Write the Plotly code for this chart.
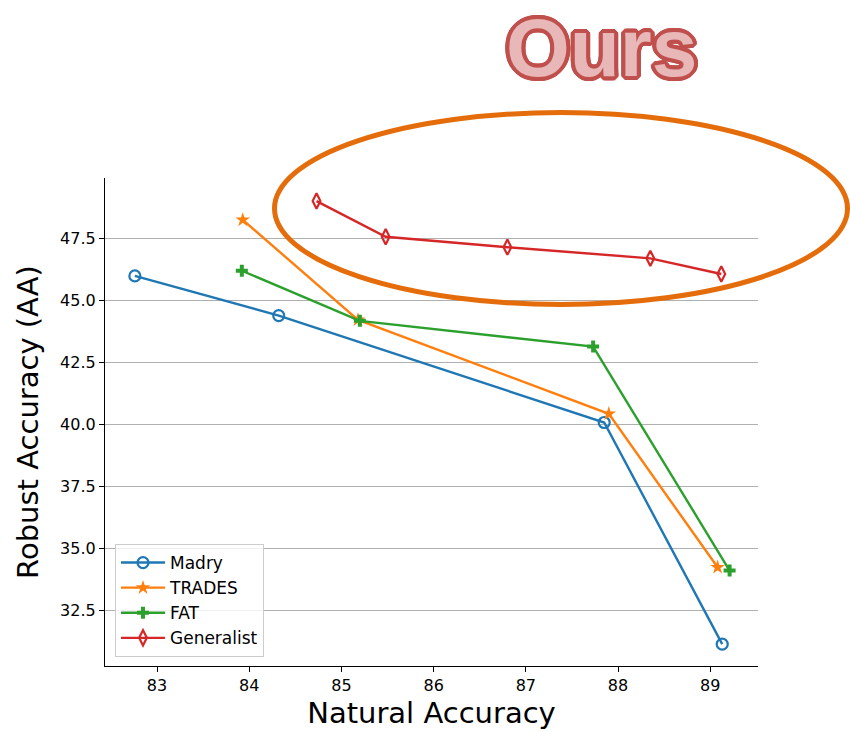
import plotly.graph_objects as go

# Natural / robust accuracy for each training method
madry_nat = [82.76, 84.32, 87.85, 89.13]
madry_rob = [45.98, 44.38, 40.07, 31.13]

trades_nat = [83.93, 85.18, 87.90, 89.08]
trades_rob = [48.24, 44.21, 40.42, 34.23]

fat_nat = [83.92, 85.20, 87.73, 89.21]
fat_rob = [46.19, 44.17, 43.13, 34.10]

gen_nat = [84.73, 85.48, 86.80, 88.35, 89.12]
gen_rob = [49.00, 47.56, 47.14, 46.69, 46.06]

y_ticks = [32.5, 35.0, 37.5, 40.0, 42.5, 45.0, 47.5]
x_ticks = [83, 84, 85, 86, 87, 88, 89]

FONT = "DejaVu Sans"
W, H = 850, 732
ML, MR, MT, MB = 105, 92, 178, 66
PW, PH = W - ML - MR, H - MT - MB


def px_to_paper(px, py):
    return (px - ML) / PW, (H - MB - py) / PH


fig = go.Figure()

series = [
    ("Madry", madry_nat, madry_rob, "#1f77b4", "circle-open", 11),
    ("TRADES", trades_nat, trades_rob, "#ff7f0e", "star", 11),
    ("FAT", fat_nat, fat_rob, "#2ca02c", "cross", 10),
    ("Generalist", gen_nat, gen_rob, "#d62728", "diamond-tall-open", 11),
]
for name, xs, ys, color, sym, size in series:
    fig.add_trace(go.Scatter(
        x=xs, y=ys, name=name, mode="lines+markers",
        line=dict(color=color, width=2.4),
        marker=dict(symbol=sym, size=size, color=color,
                    line=dict(color=color, width=2.2 if "open" in sym else 0)),
    ))

# Highlight ring around the proposed method
ex0, ey0 = px_to_paper(274.5, 304.5)
ex1, ey1 = px_to_paper(847.5, 112.5)
fig.add_shape(type="circle", xref="paper", yref="paper",
              x0=ex0, x1=ex1, y0=ey0, y1=ey1,
              line=dict(color="#E46C0A", width=5), layer="above")

# Outlined "Ours" label
ox, oy = px_to_paper(601, 47)
offs = []
r = 4
for dx in range(-r, r + 1):
    for dy in range(-r, r + 1):
        if (dx or dy) and dx * dx + dy * dy <= r * r + 1:
            offs.append(f"{dx}px {dy}px 0 #C0504D")
fig.add_annotation(
    text="Ours", xref="paper", yref="paper", x=ox, y=oy,
    xanchor="center", yanchor="middle", showarrow=False,
    font=dict(family="Liberation Sans", size=82, color="#E8B7B7",
              weight="bold", shadow=", ".join(offs)),
)

fig.update_layout(
    width=W, height=H,
    margin=dict(l=ML, r=MR, t=MT, b=MB, autoexpand=False),
    paper_bgcolor="white", plot_bgcolor="white",
    font=dict(family=FONT, size=16, color="black"),
    showlegend=True,
    legend=dict(
        x=px_to_paper(115, 0)[0], y=px_to_paper(0, 657)[1],
        xanchor="left", yanchor="bottom",
        bgcolor="rgba(255,255,255,0.8)", bordercolor="#cccccc", borderwidth=1,
        font=dict(family=FONT, size=17), itemwidth=44, tracegroupgap=2,
    ),
    xaxis=dict(
        range=[82.436, 89.518], tickvals=x_ticks,
        ticktext=[str(v) for v in x_ticks],
        showgrid=False, zeroline=False,
        showline=True, linecolor="black", linewidth=1.2,
        ticks="outside", ticklen=5, tickcolor="black",
        title=dict(text="Natural Accuracy", font=dict(size=29), standoff=8),
    ),
    yaxis=dict(
        range=[30.25, 49.93], tickvals=y_ticks,
        ticktext=[f"{v:.1f}" for v in y_ticks],
        showgrid=True, gridcolor="#b0b0b0", gridwidth=1, zeroline=False,
        showline=True, linecolor="black", linewidth=1.2,
        ticks="outside", ticklen=5, tickcolor="black",
        title=dict(text="Robust Accuracy (AA)", font=dict(size=29), standoff=12),
    ),
)

fig.write_html("out.html")
